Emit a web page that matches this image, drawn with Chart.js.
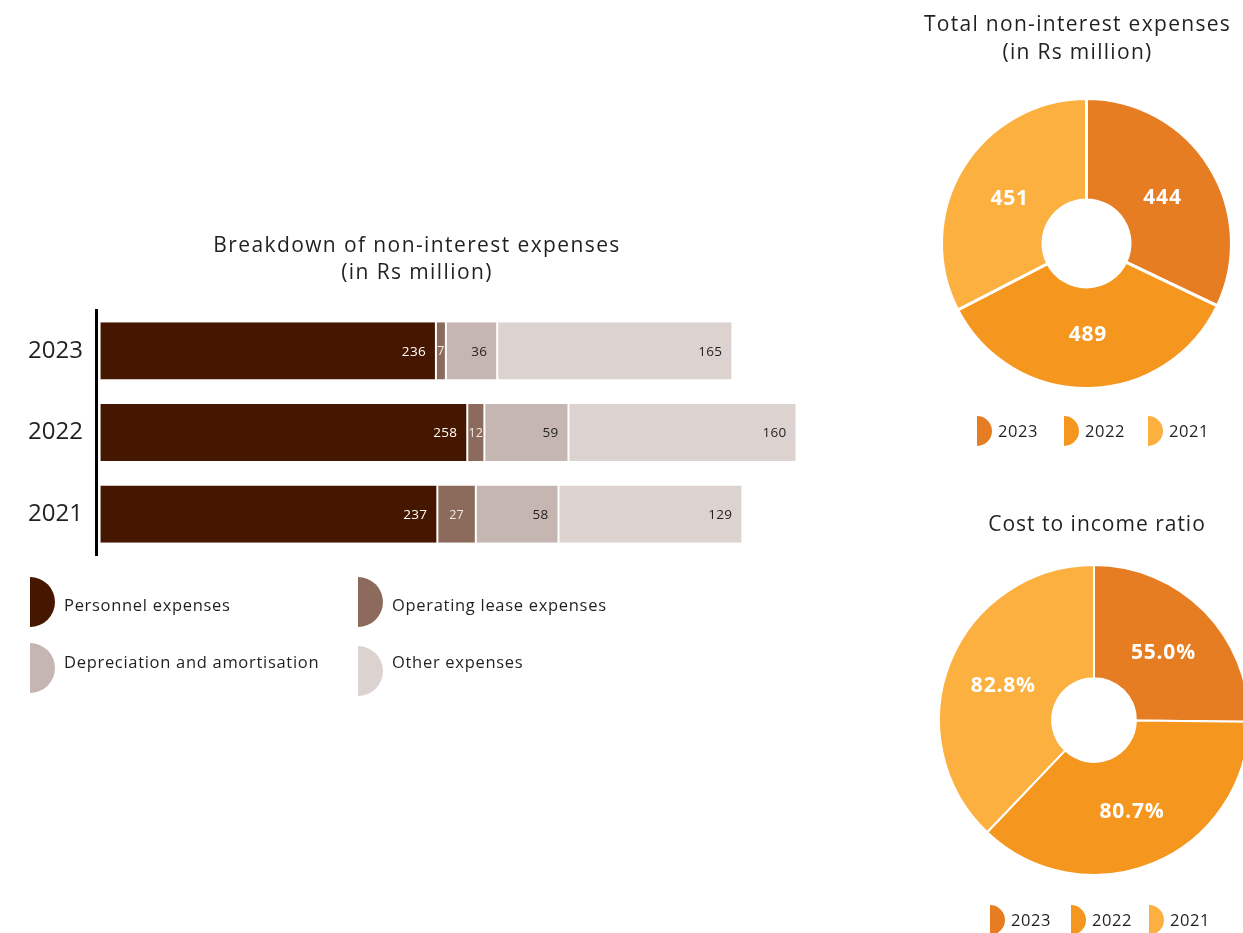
<!DOCTYPE html>
<html>
<head>
<meta charset="utf-8">
<script src="https://cdn.jsdelivr.net/npm/chart.js@4/dist/chart.umd.min.js"></script>
<style>
  html, body { margin: 0; padding: 0; background: #fff; overflow: hidden; width: 1243px; height: 933px; }
  .box { position: absolute; }
</style>
</head>
<body>
<div class="box" style="left:0;top:220px;width:834px;height:480px"><canvas id="breakdown"></canvas></div>
<div class="box" style="left:900px;top:0;width:343px;height:460px"><canvas id="total"></canvas></div>
<div class="box" style="left:900px;top:480px;width:400px;height:453px"><canvas id="ratio"></canvas></div>
<script>
// Breakdown of non-interest expenses (Rs million)
const years = ['2023', '2022', '2021'];
const expenseNames = ['Personnel expenses', 'Operating lease expenses', 'Depreciation and amortisation', 'Other expenses'];
const personnel = [236, 258, 237];
const operatingLease = [7, 12, 27];
const depreciation = [36, 59, 58];
const otherExpenses = [165, 160, 129];

// Totals and ratios per year
const pieYears = ['2023', '2022', '2021'];
const totalExpenses = [444, 489, 451];
const costIncomeRatio = [55.0, 80.7, 82.8];

const FONT = "'Open Sans', sans-serif";
const INK = '#231f20';
const browns = ['#461700', '#8c6b5d', '#c5b6b1', '#dcd3d1'];
const oranges = ['#e77d22', '#f5961f', '#fbb040'];

function spacing(ctx, px) {
  if ('letterSpacing' in ctx) ctx.letterSpacing = px + 'px';
}

// Draws fixed heading lines on the canvas
const headings = {
  id: 'headings',
  afterDraw(chart, args, opts) {
    const ctx = chart.ctx;
    ctx.save();
    ctx.fillStyle = opts.color || INK;
    ctx.font = `${opts.size}px ${FONT}`;
    spacing(ctx, opts.tracking || 0);
    ctx.textAlign = 'center';
    ctx.textBaseline = 'middle';
    opts.lines.forEach((t, i) => ctx.fillText(t, opts.x, opts.y + i * opts.lineHeight));
    ctx.restore();
  }
};

// Legend with half-disc markers at given spots
const halfLegend = {
  id: 'halfLegend',
  afterDraw(chart, args, opts) {
    const ctx = chart.ctx;
    ctx.save();
    ctx.font = `${opts.size}px ${FONT}`;
    spacing(ctx, opts.tracking || 0);
    ctx.textBaseline = 'middle';
    ctx.textAlign = 'left';
    opts.items.forEach(it => {
      ctx.fillStyle = it.color;
      ctx.beginPath();
      ctx.arc(it.x, it.my, opts.r, -Math.PI / 2, Math.PI / 2);
      ctx.closePath();
      ctx.fill();
      ctx.fillStyle = INK;
      ctx.fillText(it.text, it.x + opts.textDx, it.ty);
    });
    ctx.restore();
  }
};

// Value labels inside stacked bar segments
const barValues = {
  id: 'barValues',
  afterDatasetsDraw(chart) {
    const ctx = chart.ctx;
    ctx.save();
    ctx.textBaseline = 'middle';
    spacing(ctx, 0.3);
    chart.data.datasets.forEach((ds, i) => {
      const meta = chart.getDatasetMeta(i);
      meta.data.forEach((el, j) => {
        const p = el.getProps(['x', 'y', 'base'], true);
        ctx.font = `${ds.valueSize}px ${FONT}`;
        ctx.fillStyle = ds.valueColor;
        if (ds.valueAlign === 'center') {
          ctx.textAlign = 'center';
          ctx.fillText(String(ds.data[j]), (p.x + p.base) / 2, p.y + 1);
        } else {
          ctx.textAlign = 'right';
          ctx.fillText(String(ds.data[j]), p.x - 10, p.y + 1);
        }
      });
    });
    ctx.restore();
  }
};

// Value labels inside doughnut slices
const sliceValues = {
  id: 'sliceValues',
  afterDatasetsDraw(chart, args, opts) {
    const ctx = chart.ctx;
    const meta = chart.getDatasetMeta(0);
    ctx.save();
    ctx.fillStyle = '#ffffff';
    ctx.font = `bold ${opts.size}px ${FONT}`;
    spacing(ctx, 0.8);
    ctx.textAlign = 'center';
    ctx.textBaseline = 'middle';
    meta.data.forEach((arc, j) => {
      const p = arc.getProps(['x', 'y', 'startAngle', 'endAngle', 'outerRadius'], true);
      const a = (p.startAngle + p.endAngle) / 2;
      const r = p.outerRadius * opts.radius;
      ctx.fillText(opts.format(chart.data.datasets[0].data[j]), p.x + Math.cos(a) * r, p.y + Math.sin(a) * r + 2);
    });
    ctx.restore();
  }
};

const seriesData = [personnel, operatingLease, depreciation, otherExpenses];
const valueColors = ['#ffffff', '#f3ebe7', INK, INK];
const valueAligns = ['end', 'center', 'end', 'end'];
const valueSizes = [13.5, 12.5, 13.5, 13.5];

new Chart(document.getElementById('breakdown'), {
  type: 'bar',
  data: {
    labels: years,
    datasets: expenseNames.map((name, i) => ({
      label: name,
      data: seriesData[i],
      backgroundColor: browns[i],
      borderColor: '#ffffff',
      borderWidth: { left: 1, right: 1, top: 0, bottom: 0 },
      borderSkipped: false,
      valueColor: valueColors[i],
      valueAlign: valueAligns[i],
      valueSize: valueSizes[i]
    }))
  },
  options: {
    indexAxis: 'y',
    responsive: true,
    maintainAspectRatio: false,
    animation: false,
    layout: { padding: { left: 0, right: 0, top: 90, bottom: 145 } },
    datasets: { bar: { categoryPercentage: 1, barPercentage: 0.7 } },
    scales: {
      x: { stacked: true, display: false, min: -2.5, max: 515.3 },
      y: {
        stacked: true,
        grid: { display: false, drawTicks: false },
        border: { display: true, color: '#000000', width: 3 },
        ticks: { color: INK, font: { size: 24, family: FONT }, padding: 13 },
        afterFit(scale) { scale.width = 96; }
      }
    },
    plugins: {
      legend: { display: false },
      tooltip: { enabled: false },
      headings: { lines: ['Breakdown of non-interest expenses', '(in Rs million)'], x: 417, y: 26, lineHeight: 27, size: 21, tracking: 1.4 },
      halfLegend: {
        r: 25, size: 16.5, textDx: 34, tracking: 0.7,
        items: [
          { text: expenseNames[0], color: browns[0], x: 30, my: 382, ty: 386 },
          { text: expenseNames[1], color: browns[1], x: 358, my: 382, ty: 386 },
          { text: expenseNames[2], color: browns[2], x: 30, my: 448, ty: 443 },
          { text: expenseNames[3], color: browns[3], x: 358, my: 451, ty: 443 }
        ]
      }
    }
  },
  plugins: [headings, halfLegend, barValues]
});

function pieChart(id, values, cfg) {
  return new Chart(document.getElementById(id), {
    type: 'doughnut',
    data: {
      labels: pieYears,
      datasets: [{ data: values, backgroundColor: oranges, borderColor: '#ffffff', borderWidth: cfg.border }]
    },
    options: {
      responsive: true,
      maintainAspectRatio: false,
      animation: false,
      cutout: cfg.cutout,
      layout: { padding: cfg.padding },
      plugins: {
        legend: { display: false },
        tooltip: { enabled: false },
        headings: cfg.heading,
        sliceValues: { size: 21, radius: cfg.labelRadius, format: cfg.format },
        halfLegend: {
          r: 15, size: 16.5, textDx: 21, tracking: 0.6,
          items: pieYears.map((y, i) => ({ text: y, color: oranges[i], x: cfg.legendX[i], my: cfg.legendY, ty: cfg.legendY + 1 }))
        }
      }
    },
    plugins: [headings, halfLegend, sliceValues]
  });
}

pieChart('total', totalExpenses, {
  border: 3,
  cutout: '30%',
  padding: { left: 40, right: 10, top: 97, bottom: 70 },
  labelRadius: 0.62,
  format: v => String(v),
  heading: { lines: ['Total non-interest expenses', '(in Rs million)'], x: 177.5, y: 25, lineHeight: 28, size: 21, tracking: 1.3 },
  legendX: [77, 164, 248],
  legendY: 431
});

pieChart('ratio', costIncomeRatio, {
  border: 2,
  cutout: '27%',
  padding: { left: 38, right: 50, top: 84, bottom: 57 },
  labelRadius: 0.63,
  format: v => v.toFixed(1) + '%',
  heading: { lines: ['Cost to income ratio'], x: 197, y: 45, lineHeight: 28, size: 21, tracking: 1.0 },
  legendX: [90, 171, 249],
  legendY: 440
});
</script>
</body>
</html>
